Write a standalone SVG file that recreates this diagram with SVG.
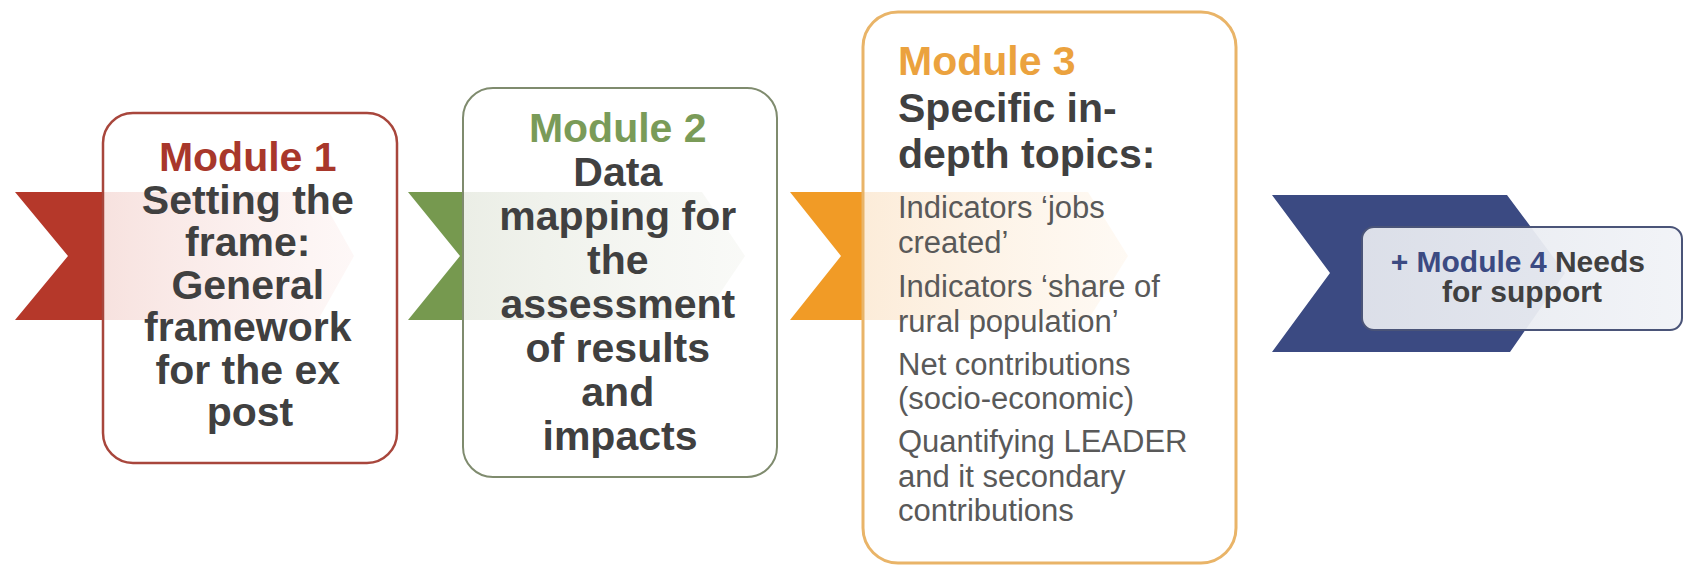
<svg xmlns="http://www.w3.org/2000/svg" width="1684" height="566" viewBox="0 0 1684 566">
  <defs>
    <linearGradient id="fadeRed" x1="0" y1="0" x2="1" y2="0">
      <stop offset="0" stop-color="#f7e2df"/>
      <stop offset="1" stop-color="#fdf3f2" stop-opacity="0.6"/>
    </linearGradient>
    <linearGradient id="fadeGreen" x1="0" y1="0" x2="1" y2="0">
      <stop offset="0" stop-color="#ebeee6"/>
      <stop offset="1" stop-color="#f5f6f2" stop-opacity="0.6"/>
    </linearGradient>
    <linearGradient id="fadeOrange" x1="0" y1="0" x2="1" y2="0">
      <stop offset="0" stop-color="#fcecd9"/>
      <stop offset="1" stop-color="#fef6ec" stop-opacity="0.6"/>
    </linearGradient>
    <linearGradient id="fillBlue" x1="0" y1="0" x2="1" y2="0">
      <stop offset="0" stop-color="#e4e7ee"/>
      <stop offset="1" stop-color="#f1f3f7"/>
    </linearGradient>
  </defs>
  <style>
    text { font-family: "Liberation Sans", Arial, sans-serif; }
    .head { font-size: 41px; font-weight: bold; fill: #404040; }
    .mod { font-size: 41px; font-weight: bold; }
    .body { font-size: 31px; fill: #595959; }
    .m4 { font-size: 30px; font-weight: bold; fill: #404040; }
    .box { fill: none; }
  </style>
  <rect width="1684" height="566" fill="#ffffff"/>

  <g id="connectors">
    <!-- solid chevrons -->
    <polygon points="15,192 103,192 103,320 15,320 68,256" fill="#b5382a"/>
    <polygon points="408,192 463,192 463,320 408,320 460,256" fill="#76994f"/>
    <polygon points="790,192 863,192 863,320 790,320 841,256" fill="#f19b26"/>
    <polygon points="1272,195 1507,195 1565,273 1510,352 1272,352 1330,273" fill="#3b4a82"/>
    <!-- faded continuations inside boxes -->
    <polygon points="104,192 318,192 354,256 318,320 104,320" fill="url(#fadeRed)"/>
    <polygon points="464,192 702,192 745,256 702,320 464,320" fill="url(#fadeGreen)"/>
    <polygon points="864,192 1088,192 1128,256 1088,320 864,320" fill="url(#fadeOrange)"/>
  </g>

  <g id="module1">
    <rect x="103" y="113" width="294" height="350" rx="30" class="box" stroke="#a8463c" stroke-width="2.5"/>
    <text text-anchor="middle" x="250">
      <tspan class="mod" x="250" y="171" fill="#a8372b">Module 1</tspan>
      <tspan class="head" x="250" y="213.5">Setting the</tspan>
      <tspan class="head" x="250" y="256">frame:</tspan>
      <tspan class="head" x="250" y="298.5">General</tspan>
      <tspan class="head" x="250" y="341">framework</tspan>
      <tspan class="head" x="250" y="383.5">for the ex</tspan>
      <tspan class="head" x="250" y="426">post</tspan>
    </text>
  </g>

  <g id="module2">
    <rect x="463" y="88" width="314" height="389" rx="30" class="box" stroke="#7f8b6e" stroke-width="2"/>
    <text text-anchor="middle" x="620">
      <tspan class="mod" x="620" y="142" fill="#7a9b58">Module 2</tspan>
      <tspan class="head" x="620" y="186">Data</tspan>
      <tspan class="head" x="620" y="230">mapping for</tspan>
      <tspan class="head" x="620" y="274">the</tspan>
      <tspan class="head" x="620" y="318">assessment</tspan>
      <tspan class="head" x="620" y="362">of results</tspan>
      <tspan class="head" x="620" y="406">and</tspan>
      <tspan class="head" x="620" y="450">impacts</tspan>
    </text>
  </g>

  <g id="module3">
    <rect x="863" y="12" width="373" height="551" rx="35" class="box" stroke="#e9b468" stroke-width="3"/>
    <text x="898">
      <tspan class="mod" x="898" y="75" fill="#eba23e">Module 3</tspan>
      <tspan class="head" x="898" y="122">Specific in-</tspan>
      <tspan class="head" x="898" y="168">depth topics:</tspan>
    </text>
    <text class="body" x="898">
      <tspan x="898" y="218">Indicators ‘jobs</tspan>
      <tspan x="898" y="253">created’</tspan>
      <tspan x="898" y="297">Indicators ‘share of</tspan>
      <tspan x="898" y="332">rural population’</tspan>
      <tspan x="898" y="375">Net contributions</tspan>
      <tspan x="898" y="409">(socio-economic)</tspan>
      <tspan x="898" y="452">Quantifying LEADER</tspan>
      <tspan x="898" y="487">and it secondary</tspan>
      <tspan x="898" y="521">contributions</tspan>
    </text>
  </g>

  <g id="module4">
    <rect x="1362" y="227" width="320" height="103" rx="12" fill="url(#fillBlue)" fill-opacity="0.95" stroke="#4a5478" stroke-width="2"/>
    <text class="m4" text-anchor="middle" x="1522">
      <tspan x="1522" y="272"><tspan fill="#3b4a82">+ Module 4</tspan> Needs</tspan>
      <tspan x="1522" y="302">for support</tspan>
    </text>
  </g>
</svg>
